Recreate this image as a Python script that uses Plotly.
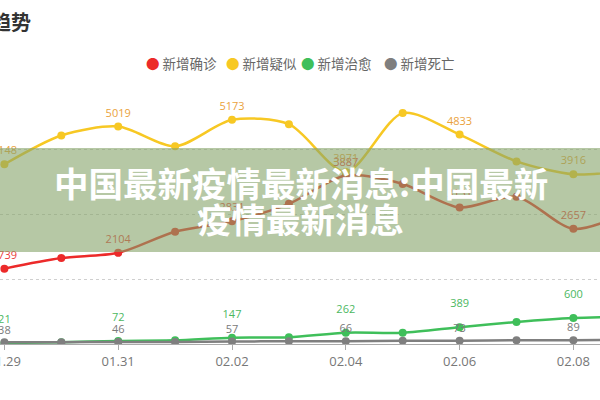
import plotly.graph_objects as go

dates = ["01.29", "01.30", "01.31", "02.01", "02.02", "02.03", "02.04",
         "02.05", "02.06", "02.07", "02.08", "02.09"]
confirmed = [1739, 1982, 2104, 2590, 2831, 3235, 3887, 3694, 3151, 3399, 2657, 3062]
suspected = [4148, 4812, 5019, 4562, 5173, 5072, 3971, 5328, 4833, 4214, 3916, 4008]
cured = [21, 43, 72, 85, 147, 157, 262, 261, 389, 510, 600, 632]
deaths = [38, 43, 46, 45, 57, 64, 66, 73, 73, 86, 89, 97]

series_names = ["新增确诊", "新增疑似", "新增治愈", "新增死亡"]
line_colors = ["#ec2a2a", "#f7c824", "#3fbf5a", "#7f7f7f"]
label_colors = ["#ec3a3a", "#eaa23c", "#4cb85f", "#7a7a7a"]
label_pad = [10, 10, 26, 8]  # invisible marker size used to lift labels

W, H = 600, 400
TOP, BOTTOM = 84, 344  # pixel rows of plot area
px_per_day = 56.9
x0 = -4.4 / px_per_day
x1 = x0 + W / px_per_day


def py(p):
    return (BOTTOM - p) / (BOTTOM - TOP)


def px(p):
    return p / W


fig = go.Figure()
xs = list(range(len(dates)))
all_series = [confirmed, suspected, cured, deaths]
for name, vals, lc in zip(series_names, all_series, line_colors):
    fig.add_trace(go.Scatter(
        x=xs, y=vals, name=name, mode="lines+markers",
        line=dict(color=lc, width=2.5, shape="spline", smoothing=0.8),
        marker=dict(color=lc, size=8),
        showlegend=False,
    ))
for name, vals, tc, pad in zip(series_names, all_series, label_colors, label_pad):
    texts = [str(v) if i % 2 == 0 else "" for i, v in enumerate(vals)]
    fig.add_trace(go.Scatter(
        x=xs, y=vals, name=name + " 标签", mode="markers+text",
        marker=dict(size=pad, color="rgba(0,0,0,0)"),
        text=texts, textposition="top center",
        textfont=dict(color=tc, size=11, family="Open Sans, sans-serif"),
        showlegend=False, hoverinfo="skip",
    ))

fig.update_xaxes(
    range=[x0, x1], tickmode="array", tickvals=xs[::2], ticktext=dates[::2],
    showgrid=False, zeroline=False, showline=True, linecolor="#aaaaaa", linewidth=1,
    ticks="outside", ticklen=5, tickcolor="#aaaaaa", ticklabeloverflow="allow",
    tickfont=dict(size=13, color="#777777", family="Open Sans, sans-serif"),
)
fig.update_yaxes(
    range=[0, 6000], tickvals=[1500, 3000, 4500, 6000], showticklabels=False,
    showgrid=True, gridcolor="#cfcfcf", griddash="dot", gridwidth=1,
    zeroline=False, showline=False,
)

shapes = [dict(type="rect", xref="paper", yref="paper",
               x0=-0.02, x1=1.02, y0=py(252), y1=py(148),
               fillcolor="rgba(133,163,105,0.6)", line=dict(width=0), layer="above")]

annotations = []
# chart title (partially cut at left edge)
annotations.append(dict(text="<b>疫情趋势</b>", xref="paper", yref="paper",
                        x=px(33), y=py(22), xanchor="right", yanchor="middle",
                        showarrow=False,
                        font=dict(size=20, color="#333333", family="Noto Sans CJK SC")))
# legend
legend_x = [144, 224, 299, 382]
for name, c, lx in zip(series_names, line_colors, legend_x):
    annotations.append(dict(
        text=f"<span style='color:{c}'>●</span> {name}",
        xref="paper", yref="paper", x=px(lx), y=py(63),
        xanchor="left", yanchor="middle", showarrow=False,
        font=dict(size=13.5, color="#666666", family="Noto Sans CJK SC")))
# banner text
annotations.append(dict(text="<b>中国最新疫情最新消息:中国最新</b>", xref="paper", yref="paper",
                        x=px(301), y=py(182), xanchor="center", yanchor="middle",
                        showarrow=False,
                        font=dict(size=34.5, color="white", family="Noto Sans CJK SC", weight=900)))
annotations.append(dict(text="<b>疫情最新消息</b>", xref="paper", yref="paper",
                        x=px(300), y=py(218), xanchor="center", yanchor="middle",
                        showarrow=False,
                        font=dict(size=34.5, color="white", family="Noto Sans CJK SC", weight=900)))

fig.update_layout(
    width=W, height=H, margin=dict(l=0, r=0, t=TOP, b=H - BOTTOM, autoexpand=False),
    plot_bgcolor="white", paper_bgcolor="white",
    shapes=shapes, annotations=annotations, showlegend=False,
)
fig.write_html("out.html")
